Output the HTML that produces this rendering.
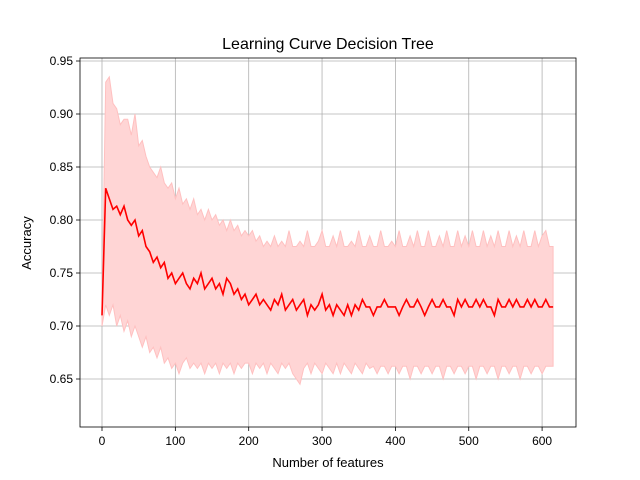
<!DOCTYPE html>
<html><head><meta charset="utf-8"><style>
body{margin:0;background:#fff;}
svg{display:block;font-family:"Liberation Sans","DejaVu Sans",sans-serif;}
</style></head><body>
<svg id="chart" width="640" height="480">
<rect x="0" y="0" width="640" height="480" fill="#fff"/>
<g id="grid"></g><g id="band"></g><g id="line"></g><g id="axes"></g>
<text x="328" y="49" text-anchor="middle" font-size="16">Learning Curve Decision Tree</text>
<text x="328" y="467" text-anchor="middle" font-size="13">Number of features</text>
<text x="31" y="243" text-anchor="middle" font-size="13" transform="rotate(-90 31 243)">Accuracy</text>
</svg>
<script>
const stepSize = 5;
const meanAcc = [0.71,0.83,0.82,0.81,0.813,0.805,0.813,0.80,0.795,0.80,
0.785,0.79,0.775,0.77,0.76,0.765,0.755,0.76,0.745,0.75,
0.74,0.745,0.75,0.74,0.735,0.745,0.74,0.75,0.735,0.74,
0.745,0.735,0.74,0.73,0.745,0.74,0.73,0.735,0.725,0.73,
0.72,0.725,0.73,0.72,0.725,0.72,0.715,0.725,0.72,0.73,
0.715,0.72,0.725,0.715,0.72,0.725,0.71,0.72,0.715,0.72,
0.73,0.715,0.72,0.71,0.72,0.715,0.71,0.72,0.71,0.72,
0.715,0.725,0.718,0.718,0.71,0.718,0.718,0.725,0.718,0.718,
0.718,0.71,0.718,0.725,0.718,0.718,0.725,0.718,0.71,0.718,
0.725,0.718,0.718,0.725,0.718,0.718,0.71,0.725,0.718,0.725,
0.718,0.718,0.725,0.718,0.725,0.718,0.718,0.71,0.725,0.718,
0.718,0.725,0.718,0.725,0.718,0.718,0.725,0.718,0.725,0.718,
0.718,0.725,0.718,0.718];
const upperAcc = [0.72,0.93,0.935,0.91,0.905,0.89,0.895,0.895,0.88,0.90,
0.87,0.875,0.86,0.85,0.845,0.84,0.85,0.835,0.83,0.835,
0.82,0.83,0.815,0.82,0.81,0.82,0.805,0.81,0.80,0.81,
0.80,0.805,0.795,0.80,0.79,0.80,0.79,0.795,0.785,0.79,
0.785,0.79,0.78,0.785,0.775,0.78,0.775,0.785,0.775,0.78,
0.775,0.79,0.775,0.775,0.78,0.775,0.79,0.775,0.775,0.78,
0.79,0.775,0.775,0.785,0.775,0.79,0.775,0.775,0.78,0.775,
0.79,0.775,0.775,0.785,0.775,0.775,0.79,0.775,0.775,0.78,
0.775,0.79,0.775,0.775,0.785,0.775,0.79,0.775,0.775,0.79,
0.775,0.775,0.785,0.775,0.79,0.775,0.775,0.79,0.775,0.785,
0.775,0.79,0.775,0.775,0.79,0.775,0.785,0.775,0.79,0.775,
0.775,0.79,0.775,0.785,0.775,0.79,0.775,0.775,0.79,0.775,
0.785,0.79,0.775,0.775];
const lowerAcc = [0.70,0.72,0.71,0.72,0.70,0.71,0.695,0.705,0.69,0.70,
0.69,0.68,0.69,0.675,0.68,0.67,0.68,0.665,0.67,0.66,
0.665,0.655,0.665,0.67,0.66,0.665,0.66,0.665,0.655,0.665,
0.66,0.665,0.655,0.665,0.66,0.665,0.655,0.665,0.66,0.665,
0.665,0.655,0.665,0.66,0.665,0.655,0.665,0.66,0.655,0.665,
0.66,0.665,0.655,0.65,0.645,0.66,0.665,0.655,0.665,0.66,
0.655,0.665,0.66,0.655,0.665,0.655,0.665,0.66,0.655,0.665,
0.66,0.655,0.665,0.66,0.662,0.655,0.662,0.662,0.655,0.662,
0.662,0.655,0.662,0.662,0.65,0.662,0.662,0.655,0.662,0.662,
0.655,0.662,0.662,0.65,0.662,0.662,0.655,0.662,0.662,0.655,
0.662,0.662,0.65,0.662,0.662,0.655,0.662,0.662,0.65,0.662,
0.662,0.655,0.662,0.662,0.65,0.662,0.662,0.655,0.662,0.662,
0.655,0.662,0.662,0.662];
const xTicks = [0,100,200,300,400,500,600];
const yTicks = [0.65,0.70,0.75,0.80,0.85,0.90,0.95];

const L=80,R=576,T=58,B=427;
const sx = v => 102 + v*0.7335;
const sy = v => 326 - (v-0.70)*1060;
const NS="http://www.w3.org/2000/svg";
function mk(tag, attrs, parent){const e=document.createElementNS(NS,tag);for(const k in attrs)e.setAttribute(k,attrs[k]);parent.appendChild(e);return e;}
const grid=document.getElementById('grid'),axes=document.getElementById('axes');
xTicks.forEach(t=>{
  const x=sx(t);
  const g=mk('line',{x1:x,x2:x,y1:T,y2:B,stroke:'#b0b0b0','stroke-width':0.8},grid);
  
  
  mk('line',{x1:x,x2:x,y1:B,y2:B+4,stroke:'#000','stroke-width':0.8},axes);
  const tx=mk('text',{x:x,y:B+18,'text-anchor':'middle','font-size':12},axes);
  tx.textContent=t;
  
  
});
yTicks.forEach(t=>{
  const y=sy(t);
  const g=mk('line',{x1:L,x2:R,y1:y,y2:y,stroke:'#b0b0b0','stroke-width':0.8},grid);
  
  
  mk('line',{x1:L-4,x2:L,y1:y,y2:y,stroke:'#000','stroke-width':0.8},axes);
  const tx=mk('text',{x:L-7,y:y+4,'text-anchor':'end','font-size':12},axes);
  tx.textContent=t.toFixed(2);
  
  
});
const fr=mk('rect',{x:L,y:T,width:R-L,height:B-T,fill:'none',stroke:'#000','stroke-width':0.8},axes);



const xs = meanAcc.map((_,i)=>Math.min(i*stepSize,615));
const up = xs.map((x,i)=>sx(x).toFixed(1)+','+sy(upperAcc[i]).toFixed(1));
const lo = xs.map((x,i)=>sx(x).toFixed(1)+','+sy(lowerAcc[i]).toFixed(1));
const band=mk('polygon',{points:up.concat(lo.slice().reverse()).join(' '),fill:'#ffd5d5',stroke:'#ffc0c0','stroke-width':1},document.getElementById('band'));


const ml=mk('polyline',{points:xs.map((x,i)=>sx(x).toFixed(1)+','+sy(meanAcc[i]).toFixed(1)).join(' '),fill:'none',stroke:'#ff0000','stroke-width':1.6},document.getElementById('line'));


</script>
</body></html>
